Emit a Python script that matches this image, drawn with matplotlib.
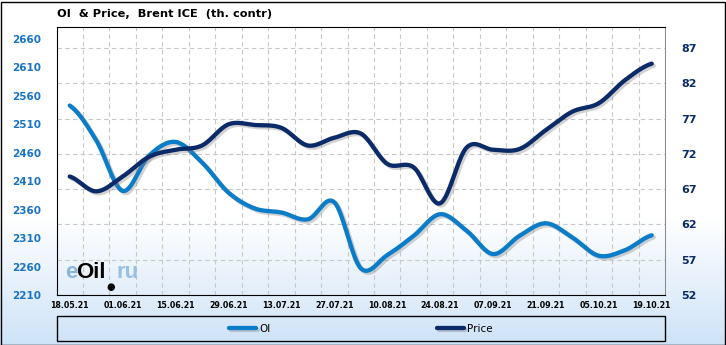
import numpy as np
import matplotlib
matplotlib.use('Agg')
from matplotlib import pyplot as plt
from matplotlib import patheffects as pe
from matplotlib.patches import Rectangle
from matplotlib.transforms import blended_transform_factory

# Weekly data
dates = ['18.05.21', '25.05.21', '01.06.21', '08.06.21', '15.06.21', '22.06.21',
         '29.06.21', '06.07.21', '13.07.21', '20.07.21', '27.07.21', '03.08.21',
         '10.08.21', '17.08.21', '24.08.21', '31.08.21', '07.09.21', '14.09.21',
         '21.09.21', '28.09.21', '05.10.21', '12.10.21', '19.10.21']
oi = [2543, 2482, 2393, 2455, 2479, 2443, 2390, 2362, 2355, 2343, 2373, 2257,
      2280, 2314, 2352, 2323, 2282, 2314, 2336, 2311, 2279, 2289, 2315]
price = [68.8, 66.7, 68.8, 71.6, 72.6, 73.2, 76.2, 76.1, 75.7, 73.2, 74.3, 74.9,
         70.6, 70.1, 65.0, 72.9, 72.6, 72.7, 75.4, 78.0, 79.2, 82.5, 84.8]
oi_ticks = list(range(2210, 2661, 50))
price_ticks = list(range(52, 88, 5))

OI_COLOR = '#0a7cc8'
PRICE_COLOR = '#0b2a68'


def smooth(y, n=20):
    # catmull-rom spline through the weekly points
    y = np.asarray(y, dtype=float)
    p = np.concatenate([[y[0]], y, [y[-1]]])
    xs, ys = [], []
    t = np.linspace(0, 1, n, endpoint=False)
    for i in range(len(y) - 1):
        p0, p1, p2, p3 = p[i], p[i + 1], p[i + 2], p[i + 3]
        seg = 0.5 * ((2 * p1) + (-p0 + p2) * t + (2 * p0 - 5 * p1 + 4 * p2 - p3) * t ** 2
                     + (-p0 + 3 * p1 - 3 * p2 + p3) * t ** 3)
        xs.append(i + t)
        ys.append(seg)
    xs.append([len(y) - 1])
    ys.append([y[-1]])
    return np.concatenate(xs), np.concatenate(ys)


W, H = 726, 345
fig = plt.figure(figsize=(W / 100, H / 100), dpi=100)

# background gradient
bg = fig.add_axes([0, 0, 1, 1], zorder=-10)
rows = np.linspace(0, 1, H)
top = np.array([1.0, 1.0, 1.0])
bot = np.array([0.81, 0.89, 0.97])
frac = np.clip((rows - 0.63) / 0.37, 0, 1)[:, None]
grad = top * (1 - frac) + bot * frac
bg.imshow(grad[:, None, :], aspect='auto', extent=[0, 1, 1, 0])
bg.set_xlim(0, 1)
bg.set_ylim(1, 0)
bg.axis('off')

ax = fig.add_axes([56.5 / W, 1 - 295 / H, (665 - 56.5) / W, (295 - 27) / H])
ax.set_facecolor('none')
ax2 = ax.twinx()

x = np.arange(len(dates))
xs, ys = smooth(oi)
shadow = [pe.SimpleLineShadow(offset=(1.5, -1.5), shadow_color='#808080', alpha=0.35),
          pe.Normal()]
ax.plot(xs, ys, color=OI_COLOR, lw=3.1, solid_capstyle='round', path_effects=shadow,
        label='OI', zorder=3)
xs2, ys2 = smooth(price)
ax2.plot(xs2, ys2, color=PRICE_COLOR, lw=3.1, solid_capstyle='round', path_effects=shadow,
         label='Price', zorder=3)

ax.set_xlim(-0.5, len(dates) - 0.5)
ax.set_ylim(2210, 2681)
ax2.set_ylim(52, 90)

ax.set_yticks(oi_ticks)
ax.tick_params(axis='y', length=0, pad=11, labelsize=7.5, labelcolor='#1874c4')
for lab in ax.get_yticklabels():
    lab.set_fontweight('bold')
ax2.set_yticks(price_ticks)
ax2.tick_params(axis='y', length=0, pad=12, labelsize=8, labelcolor=PRICE_COLOR)
for lab in ax2.get_yticklabels():
    lab.set_fontweight('bold')

ax.set_xticks(x[::2])
ax.set_xticklabels(dates[::2], fontsize=5.7, fontweight='bold')
ax.set_xticks(x[:-1] + 0.5, minor=True)
ax.tick_params(axis='x', which='both', length=0, pad=4)

# grid: vertical at week boundaries, horizontal at price ticks
ax.grid(which='minor', axis='x', color='#c8c8c8', ls=(0, (4, 3)), lw=0.8)
ax.grid(which='major', axis='x', visible=False)
tr = blended_transform_factory(ax.transAxes, ax2.transData)
for v in price_ticks[1:]:
    ax.plot([0, 1], [v, v], transform=tr, color='#c8c8c8', ls=(0, (4, 3)), lw=0.8, zorder=1)
ax.set_axisbelow(True)

for s in ['left', 'bottom', 'top']:
    ax.spines[s].set_color('black')
ax.spines['right'].set_color('#909090')
for s in ax2.spines.values():
    s.set_visible(False)

# title
fig.text(57 / W, 1 - 14 / H, 'OI  & Price,  Brent ICE  (th. contr)', fontsize=8.2,
         fontweight='bold', va='center', ha='left')

# watermark
wm = dict(fontsize=16, fontweight='bold', family='Liberation Sans', va='baseline')
fig.text(65 / W, 1 - 278 / H, 'e', color='#7fb0d8', alpha=0.9, **wm)
fig.text(76 / W, 1 - 278 / H, 'Oil', color='black', **wm)
fig.text(117 / W, 1 - 278 / H, 'ru', color='#8fbbe0', alpha=0.9, **wm)
fig.text(111 / W, 1 - 287 / H, '\u25CF', fontsize=7, color='black', ha='center', va='center')

# legend box
fig.patches.append(Rectangle((57 / W, 1 - 341 / H), 608 / W, 25 / H, transform=fig.transFigure,
                             facecolor='none', edgecolor='black', lw=1))
h1, l1 = ax.get_legend_handles_labels()
h2, l2 = ax2.get_legend_handles_labels()
fig.legend(h1 + h2, l1 + l2, loc='center', bbox_to_anchor=(361 / W, 1 - 328.5 / H),
           ncol=2, frameon=False, fontsize=7.5, handlelength=2.6, handletextpad=0.3,
           columnspacing=16)

# outer border
fig.patches.append(Rectangle((0.5 / W, 0.5 / H), (W - 2) / W, (H - 2) / H,
                             transform=fig.transFigure, facecolor='none',
                             edgecolor='black', lw=1))

fig.savefig('out.png', dpi=100)
plt.close()
